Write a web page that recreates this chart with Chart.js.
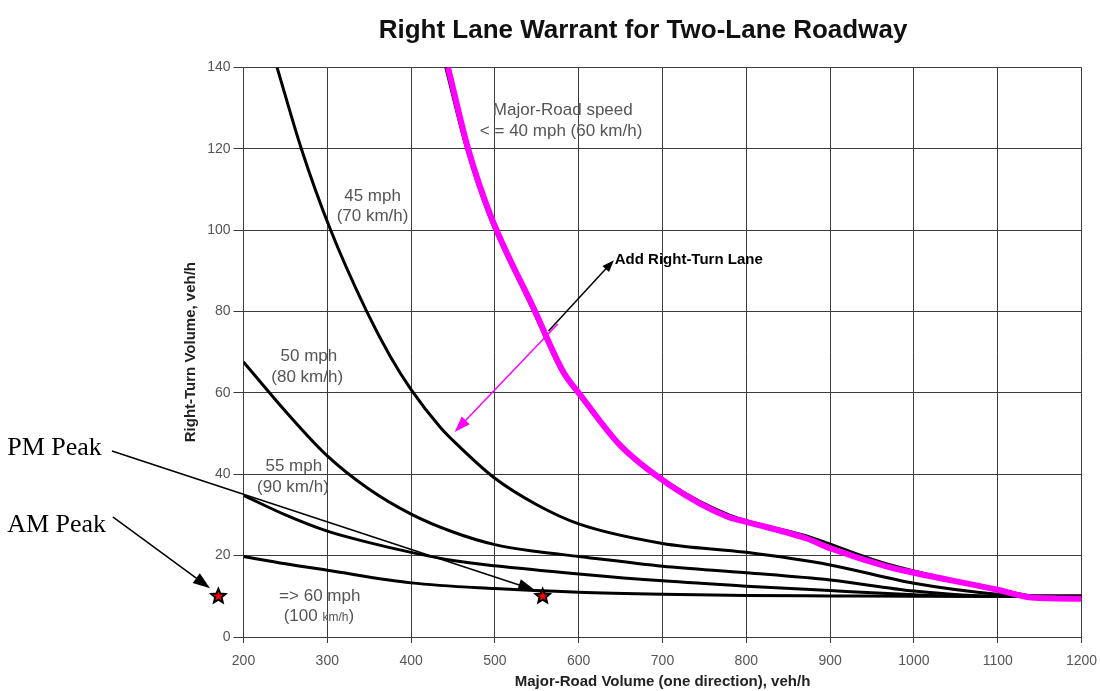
<!DOCTYPE html>
<html>
<head>
<meta charset="utf-8">
<script src="https://cdn.jsdelivr.net/npm/chart.js@4.4.0/dist/chart.umd.min.js"></script>
<style>
html, body { margin: 0; padding: 0; background: #fff; }
</style>
</head>
<body>
<canvas id="myChart" width="1100" height="691"></canvas>
<script>
// axis ticks
const xTicks = [200, 300, 400, 500, 600, 700, 800, 900, 1000, 1100, 1200];
const yTicks = [0, 20, 40, 60, 80, 100, 120, 140];

// warrant curves (x = major-road volume, y = right-turn volume)
const speed40X = [444, 468, 494, 548, 582, 600, 649, 709, 777, 800, 872, 900, 968, 1000, 1100, 1140, 1200];
const speed40Y = [140, 120, 104, 80, 65, 60, 47.2, 37.3, 29.6, 28.3, 24.2, 21.8, 17.3, 15.8, 11.6, 9.7, 9.4];
const base40X = [441, 466, 492, 546, 580, 600, 650, 710, 780, 870, 960, 1000, 1100, 1150, 1200];
const base40Y = [140, 120, 104, 80, 65, 59.5, 47, 37.5, 30, 25, 18.5, 16.3, 11.8, 10.1, 10.1];
const speed45X = [240, 269, 303, 347, 375, 400, 435, 450, 500, 550, 600, 700, 800, 900, 1000, 1100, 1150, 1200];
const speed45Y = [140, 120, 100.5, 80, 69, 60.8, 51.5, 48.3, 39, 32.5, 27.8, 23, 20.8, 17.7, 13.2, 10.5, 10, 10];
const speed50X = [200, 250, 300, 350, 400, 450, 500, 550, 600, 700, 800, 900, 1000, 1100, 1200];
const speed50Y = [67.6, 55.5, 44.5, 36.3, 30.2, 25.8, 22.7, 21, 19.8, 17.4, 15.8, 14, 11.3, 10, 10];
const speed55X = [200, 250, 300, 350, 400, 450, 500, 600, 700, 800, 900, 1000, 1060, 1200];
const speed55Y = [34.8, 30, 26, 23.2, 20.8, 18.8, 17.5, 15.5, 13.8, 12.5, 11.4, 10.4, 10, 10];
const speed60X = [200, 250, 300, 400, 500, 600, 700, 800, 900, 1000, 1200];
const speed60Y = [19.8, 18, 16.4, 13.3, 11.9, 11, 10.5, 10.2, 10.1, 10, 10];

// observed peak hours
const peakNames = ['AM Peak', 'PM Peak'];
const peakX = [170, 557];
const peakY = [10, 10];

const FONT = '"Liberation Sans", Arial, sans-serif';

function pts(xs, ys) {
    return xs.map(function(x, i) { return {x: x, y: ys[i]}; });
}

function curve(xs, ys, color, width) {
    return {
        data: pts(xs, ys),
        borderColor: color,
        borderWidth: width,
        pointRadius: 0,
        fill: false,
        borderJoinStyle: 'round',
        cubicInterpolationMode: 'monotone'
    };
}

function arrow(ctx, x1, y1, x2, y2, color, w, hl, hw) {
    var a = Math.atan2(y2 - y1, x2 - x1);
    var c = Math.cos(a), s = Math.sin(a);
    ctx.strokeStyle = color;
    ctx.fillStyle = color;
    ctx.lineWidth = w;
    ctx.beginPath();
    ctx.moveTo(x1, y1);
    ctx.lineTo(x2 - hl * 0.7 * c, y2 - hl * 0.7 * s);
    ctx.stroke();
    ctx.beginPath();
    ctx.moveTo(x2, y2);
    ctx.lineTo(x2 - hl * c + hw / 2 * s, y2 - hl * s - hw / 2 * c);
    ctx.lineTo(x2 - hl * c - hw / 2 * s, y2 - hl * s + hw / 2 * c);
    ctx.closePath();
    ctx.fill();
}

function star(ctx, x, y, r) {
    ctx.beginPath();
    for (var i = 0; i < 10; i++) {
        var rr = i % 2 ? r * 0.45 : r;
        var a = -Math.PI / 2 + i * Math.PI / 5;
        ctx.lineTo(x + rr * Math.cos(a), y + rr * Math.sin(a));
    }
    ctx.closePath();
    ctx.fillStyle = '#ff0000';
    ctx.fill();
    ctx.strokeStyle = '#000';
    ctx.lineWidth = 2;
    ctx.stroke();
}

// labels and arrows placed in data units
const notes = {
    id: 'notes',
    afterDatasetsDraw: function(chart) {
        var ctx = chart.ctx, xs = chart.scales.x, ys = chart.scales.y;
        function px(v) { return xs.getPixelForValue(v); }
        function py(v) { return ys.getPixelForValue(v); }
        ctx.save();

        // curve labels
        ctx.fillStyle = '#555';
        ctx.font = '17px ' + FONT;
        ctx.textAlign = 'center';
        ctx.textBaseline = 'middle';
        ctx.fillText('45 mph', px(354), py(108.2));
        ctx.fillText('(70 km/h)', px(354), py(103.3));
        ctx.fillText('Major-Road speed', px(581), py(129.5));
        ctx.fillText('< = 40 mph (60 km/h)', px(579), py(124.3));
        ctx.fillText('50 mph', px(278), py(68.9));
        ctx.fillText('(80 km/h)', px(276), py(63.8));
        ctx.fillText('55 mph', px(260), py(42));
        ctx.fillText('(90 km/h)', px(259), py(36.9));
        ctx.fillText('=> 60 mph', px(291), py(10.1));
        // "(100 km/h)" with a smaller unit
        var a1 = '(100 ', a2 = 'km/h', a3 = ')';
        var w1 = ctx.measureText(a1).width, w3 = ctx.measureText(a3).width;
        ctx.font = '12px ' + FONT;
        var w2 = ctx.measureText(a2).width;
        var sx = px(290) - (w1 + w2 + w3) / 2, sy = py(5);
        ctx.textAlign = 'left';
        ctx.font = '17px ' + FONT;
        ctx.fillText(a1, sx, sy);
        ctx.font = '12px ' + FONT;
        ctx.fillText(a2, sx + w1, sy + 1);
        ctx.font = '17px ' + FONT;
        ctx.fillText(a3, sx + w1 + w2, sy);

        // add right-turn lane arrow
        arrow(ctx, px(575), py(76.9), px(452), py(50.4), '#ff00ff', 1.5, 16, 11);
        arrow(ctx, px(564), py(75.2), px(642), py(92.6), '#000', 1.5, 12, 9);
        ctx.fillStyle = '#000';
        ctx.font = 'bold 15px ' + FONT;
        ctx.fillText('Add Right-Turn Lane', px(643), py(92.6));

        // peak hour points
        ctx.font = '26px "Liberation Serif", "Times New Roman", serif';
        ctx.fillStyle = '#000';
        ctx.fillText(peakNames[0], px(-82), py(27.5));
        ctx.fillText(peakNames[1], px(-82), py(46.4));
        arrow(ctx, px(44), py(29.5), px(160), py(12), '#000', 1.5, 17, 12);
        arrow(ctx, px(43), py(45.7), px(548), py(11.5), '#000', 1.5, 17, 12);
        for (var i = 0; i < peakX.length; i++) {
            star(ctx, px(peakX[i]), py(peakY[i]), 7.5);
        }
        ctx.restore();
    },
    afterDraw: function(chart) {
        var ctx = chart.ctx;
        ctx.save();
        ctx.fillStyle = '#111';
        ctx.font = 'bold 26px ' + FONT;
        ctx.textAlign = 'center';
        ctx.textBaseline = 'middle';
        ctx.fillText('Right Lane Warrant for Two-Lane Roadway', 643, 31);
        ctx.restore();
    }
};

var chart = new Chart(document.getElementById('myChart').getContext('2d'), {
    type: 'line',
    data: {
        datasets: [
            curve(speed40X, speed40Y, '#ff00ff', 6),
            curve(base40X, base40Y, '#000', 2.5),
            curve(speed45X, speed45Y, '#000', 3),
            curve(speed50X, speed50Y, '#000', 3),
            curve(speed55X, speed55Y, '#000', 3),
            curve(speed60X, speed60Y, '#000', 3)
        ]
    },
    options: {
        responsive: false,
        animation: false,
        layout: { padding: { left: 182, right: 18.5, top: 67.3, bottom: 0 } },
        plugins: { legend: { display: false }, tooltip: { enabled: false } },
        scales: {
            x: {
                type: 'linear',
                min: 200,
                max: 1200,
                afterBuildTicks: function(s) { s.ticks = xTicks.map(function(v) { return {value: v}; }); },
                afterFit: function(s) { s.height = 54; s.paddingLeft = 0; s.paddingRight = 0; },
                ticks: { color: '#555', font: { family: FONT, size: 14 }, padding: 10, callback: function(v) { return String(v); } },
                grid: { color: '#3c3c3c', lineWidth: 1, tickLength: 6 },
                border: { color: '#3c3c3c', width: 1 },
                title: { display: true, text: 'Major-Road Volume (one direction), veh/h', color: '#222',
                         font: { family: FONT, size: 15, weight: 'bold' }, padding: { top: 0, bottom: 0 } }
            },
            y: {
                min: 0,
                max: 140,
                afterBuildTicks: function(s) { s.ticks = yTicks.map(function(v) { return {value: v}; }); },
                afterFit: function(s) { s.width = 61.5; },
                ticks: { color: '#555', font: { family: FONT, size: 14 }, padding: 3, callback: function(v) { return String(v); } },
                grid: { color: '#3c3c3c', lineWidth: 1, tickLength: 10 },
                border: { color: '#3c3c3c', width: 1 },
                title: { display: true, text: 'Right-Turn Volume, veh/h', color: '#222',
                         font: { family: FONT, size: 15, weight: 'bold' }, padding: { top: 0, bottom: 0 } }
            }
        }
    },
    plugins: [notes]
});
</script>
</body>
</html>
